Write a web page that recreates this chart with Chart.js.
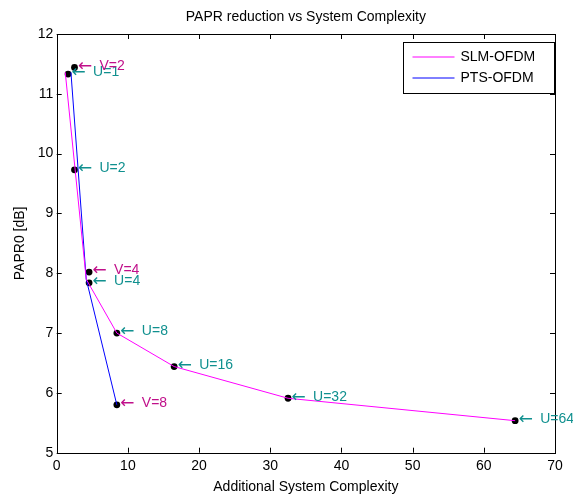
<!DOCTYPE html>
<html>
<head>
<meta charset="utf-8">
<script src="https://cdn.jsdelivr.net/npm/chart.js@4.4.0/dist/chart.umd.min.js"></script>
<style>
  html, body { margin: 0; padding: 0; background: #fff; }
</style>
</head>
<body>
<canvas id="chart" width="573" height="497"></canvas>
<script>
// SLM-OFDM curve (magenta)
const slmX = [1.2, 4.15, 8.45, 16.5, 32.5, 64.4];
const slmY = [11.36, 7.9, 7.0, 6.44, 5.91, 5.535];

// PTS-OFDM curve (blue)
const ptsX = [2.0, 4.15, 8.45];
const ptsY = [11.36, 7.9, 5.8];

// marked points with their annotations
const dotX = [1.6, 2.5, 2.5, 4.55, 4.55, 8.45, 8.45, 16.5, 32.5, 64.4];
const dotY = [11.33, 11.44, 9.73, 8.02, 7.84, 7.0, 5.8, 6.44, 5.91, 5.535];
const dotLabels = ['U=1', 'V=2', 'U=2', 'V=4', 'U=4', 'U=8', 'V=8', 'U=16', 'U=32', 'U=64'];

const xTicks = [0, 10, 20, 30, 40, 50, 60, 70];
const yTicks = [5, 6, 7, 8, 9, 10, 11, 12];

const TITLE = 'PAPR reduction vs System Complexity';
const FONT = "'Liberation Sans', Arial, sans-serif";
const U_COLOR = '#10908f';
const V_COLOR = '#c0108a';

Chart.defaults.font.family = FONT;
Chart.defaults.font.size = 14;
Chart.defaults.color = '#000';

const toPoints = (xs, ys) => xs.map((x, i) => ({ x: x, y: ys[i] }));

// box round the axes, with the ticks pointing inwards on all four sides
const framePlugin = {
    id: 'frame',
    afterDatasetsDraw(chart) {
        const { ctx, chartArea: a, scales } = chart;
        ctx.save();
        ctx.strokeStyle = '#000';
        ctx.lineWidth = 1;
        ctx.beginPath();
        xTicks.forEach(v => {
            const px = Math.round(scales.x.getPixelForValue(v)) + 0.5;
            ctx.moveTo(px, a.bottom); ctx.lineTo(px, a.bottom - 5);
            ctx.moveTo(px, a.top); ctx.lineTo(px, a.top + 5);
        });
        yTicks.forEach(v => {
            const py = Math.round(scales.y.getPixelForValue(v)) + 0.5;
            ctx.moveTo(a.left, py); ctx.lineTo(a.left + 5, py);
            ctx.moveTo(a.right, py); ctx.lineTo(a.right - 5, py);
        });
        ctx.stroke();
        ctx.strokeRect(Math.round(a.left) + 0.5, Math.round(a.top) + 0.5,
            Math.round(a.right - a.left), Math.round(a.bottom - a.top));

        // title centred over the axes, not the whole canvas
        ctx.fillStyle = '#000';
        ctx.font = '14px ' + FONT;
        ctx.textAlign = 'center';
        ctx.textBaseline = 'middle';
        ctx.fillText(TITLE, (a.left + a.right) / 2, 17.4);
        ctx.restore();
    }
};

// "← U=1" style notes next to each black dot
const notePlugin = {
    id: 'notes',
    afterDatasetsDraw(chart) {
        const { ctx } = chart;
        const meta = chart.getDatasetMeta(2);
        ctx.save();
        ctx.textAlign = 'left';
        ctx.textBaseline = 'middle';
        meta.data.forEach((el, i) => {
            const label = dotLabels[i];
            ctx.fillStyle = label[0] === 'U' ? U_COLOR : V_COLOR;
            ctx.font = "17px 'DejaVu Sans', sans-serif";
            ctx.fillText('\u2190', el.x + 3.5, el.y - 1);
            ctx.font = '14px ' + FONT;
            ctx.fillText(label, el.x + 25, el.y - 1.5);
        });
        ctx.restore();
    }
};

// legend box in the top right corner
const legendPlugin = {
    id: 'boxLegend',
    afterDraw(chart) {
        const { ctx, chartArea: a } = chart;
        const left = Math.round(a.right - 152) + 0.5;
        const top = Math.round(a.top + 8) + 0.5;
        ctx.save();
        ctx.fillStyle = '#fff';
        ctx.fillRect(left, top, 151, 51);
        ctx.strokeStyle = '#000';
        ctx.lineWidth = 1;
        ctx.strokeRect(left, top, 151, 51);
        ctx.font = '14px ' + FONT;
        ctx.textBaseline = 'middle';
        ctx.textAlign = 'left';
        chart.data.datasets.slice(0, 2).forEach((ds, i) => {
            const y = top + 14.5 + i * 21;
            ctx.strokeStyle = ds.borderColor;
            ctx.beginPath();
            ctx.moveTo(left + 9, y);
            ctx.lineTo(left + 51, y);
            ctx.stroke();
            ctx.fillStyle = '#000';
            ctx.fillText(ds.label, left + 57, y);
        });
        ctx.restore();
    }
};

new Chart(document.getElementById('chart'), {
    type: 'scatter',
    data: {
        datasets: [{
            label: 'SLM-OFDM',
            data: toPoints(slmX, slmY),
            showLine: true,
            borderColor: '#ff00ff',
            borderWidth: 1,
            pointRadius: 0,
            tension: 0
        }, {
            label: 'PTS-OFDM',
            data: toPoints(ptsX, ptsY),
            showLine: true,
            borderColor: '#0000ff',
            borderWidth: 1,
            pointRadius: 0,
            tension: 0
        }, {
            label: 'points',
            data: toPoints(dotX, dotY),
            showLine: false,
            pointRadius: 3.4,
            pointBorderWidth: 0,
            pointBackgroundColor: '#000'
        }]
    },
    options: {
        responsive: false,
        animation: false,
        layout: { padding: { top: 34, right: 18, bottom: 0, left: 0 } },
        plugins: {
            legend: { display: false },
            tooltip: { enabled: false },
            title: { display: false }
        },
        scales: {
            x: {
                type: 'linear',
                min: 0,
                max: 70,
                afterBuildTicks: s => { s.ticks = xTicks.map(v => ({ value: v })); },
                ticks: { padding: 5, maxRotation: 0 },
                grid: { display: false, drawTicks: false, tickLength: 0 },
                border: { display: false },
                title: { display: true, text: 'Additional System Complexity', padding: { top: 0, bottom: 1.6 } },
                afterFit: s => { s.height = 44.3; }
            },
            y: {
                type: 'linear',
                min: 5,
                max: 12,
                afterBuildTicks: s => { s.ticks = yTicks.map(v => ({ value: v })); },
                ticks: { padding: 3.5 },
                grid: { display: false, drawTicks: false, tickLength: 0 },
                border: { display: false },
                title: { display: true, text: 'PAPR0 [dB]', padding: { top: 11.6, bottom: 0 } },
                afterFit: s => { s.width = 56.7; }
            }
        }
    },
    plugins: [framePlugin, notePlugin, legendPlugin]
});
</script>
</body>
</html>
